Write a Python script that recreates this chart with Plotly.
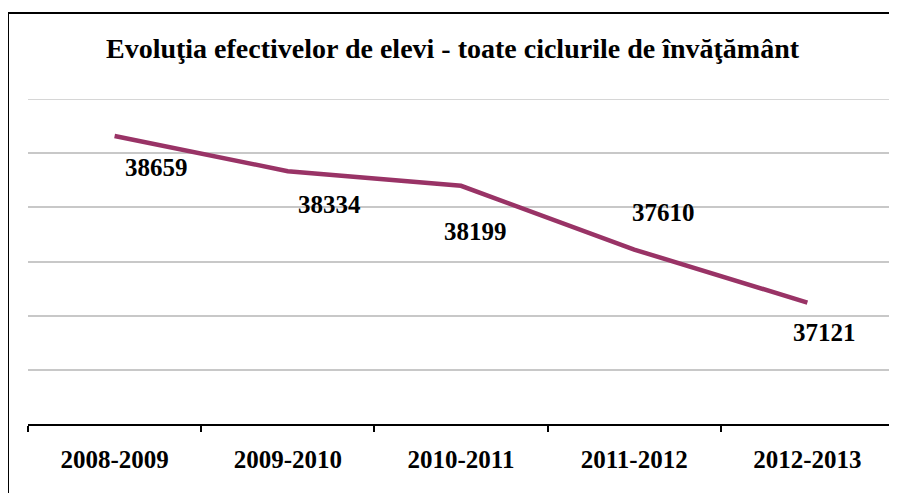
import plotly.graph_objects as go

categories = ["2008-2009", "2009-2010", "2010-2011", "2011-2012", "2012-2013"]
values = [38659, 38334, 38199, 37610, 37121]
labels = ["38659", "38334", "38199", "37610", "37121"]
title_text = "Evoluţia efectivelor de elevi - toate ciclurile de învăţământ"
y_min, y_max, y_step = 36000, 39000, 500

# label offsets in px (xshift, yshift)
offsets = [(42, -32), (42, -33), (14, -46), (29, 37), (17, -30)]

FONT = "Liberation Serif, Times New Roman, serif"

# the page body has an 8px margin, so the figure is offset by (8, 8)
W, H = 889, 485
L, T, R, B = 20, 91, 3, 69
PW, PH = W - L - R, H - T - B

fig = go.Figure()
fig.add_trace(go.Scatter(
    x=categories, y=values, mode="lines",
    line=dict(color="#993366", width=4.5),
    hoverinfo="x+y", showlegend=False,
))

annotations = []
for c, v, t, (dx, dy) in zip(categories, values, labels, offsets):
    annotations.append(dict(
        x=c, y=v, xref="x", yref="y", text="<b>%s</b>" % t, showarrow=False,
        xshift=dx, yshift=dy, font=dict(family=FONT, size=25, color="black"),
        xanchor="center", yanchor="middle",
    ))

fig.update_layout(
    width=W, height=H,
    margin=dict(l=L, r=R, t=T, b=B),
    paper_bgcolor="white", plot_bgcolor="white",
    title=dict(text="<b>%s</b>" % title_text, x=0.5, xanchor="center",
               y=1 - 40 / H, yanchor="middle",
               font=dict(family=FONT, size=28, color="black")),
    xaxis=dict(
        type="category", range=[-0.5, 4.5], tickson="boundaries",
        showgrid=False, showline=True, linecolor="black", linewidth=2,
        ticks="outside", ticklen=6, tickwidth=2, tickcolor="black",
        tickfont=dict(family=FONT, size=25, color="black", weight="bold"),
        ticklabelstandoff=12,
    ),
    yaxis=dict(
        range=[y_min, y_max], dtick=y_step, tick0=y_min,
        showgrid=True, gridcolor="#c8c8c8", gridwidth=1.5,
        showticklabels=False, zeroline=False, showline=False, ticks="",
    ),
    annotations=annotations,
    shapes=[
        # top gridline (at the range edge, which plotly skips)
        dict(type="line", xref="paper", yref="y", x0=0, x1=1, y0=y_max, y1=y_max,
             line=dict(color="#c8c8c8", width=1.5), layer="below"),
        dict(type="line", xref="paper", yref="paper",
             x0=(0 - L) / PW, x1=1.2, y0=(PH + T - 5) / PH, y1=(PH + T - 5) / PH,
             line=dict(color="black", width=2)),
        dict(type="line", xref="paper", yref="paper",
             x0=(0 - L) / PW, x1=(0 - L) / PW, y0=(PH + T - 5) / PH, y1=-0.5,
             line=dict(color="black", width=2)),
    ],
)

fig.write_html("out.html")
